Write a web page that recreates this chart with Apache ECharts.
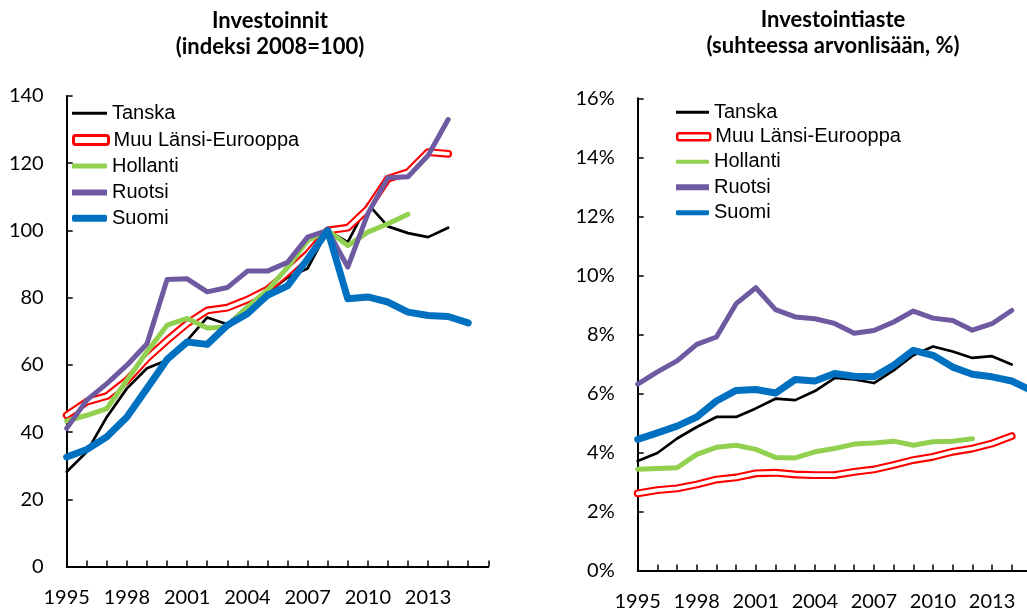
<!DOCTYPE html>
<html>
<head>
<meta charset="utf-8">
<script src="https://cdn.jsdelivr.net/npm/echarts@6/dist/echarts.min.js"></script>
<style>html,body{margin:0;padding:0;background:#fff}#c{width:1027px;height:612px}</style>
</head>
<body>
<div id="c"></div>
<script>
// ---- data ----
const years = ['1995','1996','1997','1998','1999','2000','2001','2002','2003','2004','2005','2006','2007','2008','2009','2010','2011','2012','2013','2014','2015','2016'];
const seriesNames = ['Tanska','Muu Länsi-Eurooppa','Hollanti','Ruotsi','Suomi'];

// Left: Investoinnit (indeksi 2008=100)
const invTanska   = [28.2,34.1,44.5,53.0,59.0,61.4,67.3,74.1,72.1,77.5,81.5,86.0,88.7,100,96.5,107.9,101.2,99.2,98.0,100.8];
const invMuu      = [45.0,49.0,50.7,55.4,61.9,67.3,72.3,76.2,77.0,79.4,82.4,87.5,93.0,100,100.8,106.4,115.4,117.3,123.3,122.8];
const invHollanti = [43.3,45.0,47.0,55.4,63.9,71.8,73.8,71.0,71.3,77.2,82.2,89.0,97.0,100,95.5,99.5,102.0,104.8];
const invRuotsi   = [41.1,49.5,54.4,59.9,66.3,85.4,85.6,81.7,83.0,87.9,87.9,90.5,98.0,100,89.1,105.0,115.7,116.0,122.3,133.0];
const invSuomi    = [32.6,34.8,38.6,44.5,53.0,61.6,66.8,66.1,71.8,75.2,80.7,83.5,91.5,100,79.7,80.2,78.7,75.7,74.7,74.4,72.5];

// Right: Investointiaste (suhteessa arvonlisään, %)
const rateTanska   = [3.71,3.98,4.47,4.86,5.20,5.20,5.49,5.82,5.77,6.08,6.52,6.47,6.35,6.78,7.29,7.59,7.42,7.20,7.26,6.98];
const rateMuu      = [2.61,2.72,2.78,2.91,3.08,3.15,3.29,3.31,3.25,3.23,3.23,3.34,3.42,3.57,3.74,3.85,4.02,4.13,4.30,4.55];
const rateHollanti = [3.43,3.45,3.48,3.93,4.17,4.24,4.10,3.83,3.81,4.02,4.13,4.28,4.32,4.38,4.24,4.36,4.38,4.46];
const rateRuotsi   = [6.31,6.73,7.10,7.66,7.91,9.04,9.58,8.84,8.59,8.53,8.37,8.04,8.13,8.42,8.79,8.55,8.47,8.14,8.36,8.81];
const rateSuomi    = [4.44,4.66,4.89,5.20,5.74,6.10,6.13,6.01,6.47,6.42,6.67,6.58,6.56,6.95,7.46,7.29,6.89,6.65,6.56,6.42,6.10];

const leftTicks = [0,20,40,60,80,100,120,140];
const rightTicks = [0,2,4,6,8,10,12,14,16];

// ---- style ----
const colors = {Tanska:'#000000', Muu:'#ff0000', Hollanti:'#92d050', Ruotsi:'#6e5aa0', Suomi:'#0070c0'};
const tickFont = {fontFamily:'Lato', fontSize:20, color:'#000'};

function lineSeries(name, data, xi, color, width, extra) {
  return Object.assign({
    type:'line', name, data, xAxisIndex:xi, yAxisIndex:xi,
    showSymbol:false, symbol:'none', silent:true, connectNulls:false,
    lineStyle:{color, width, cap:'round', join:'round'},
    itemStyle:{color}, emphasis:{disabled:true}
  }, extra||{});
}
function seriesFor(xi, arrs) {
  return [
    lineSeries('Tanska', arrs[0], xi, colors.Tanska, 2.7),
    lineSeries('Muu Länsi-Eurooppa', arrs[1], xi, colors.Muu, 7.8),
    lineSeries('_muuInner'+xi, arrs[1], xi, '#ffffff', 3.6),
    lineSeries('Hollanti', arrs[2], xi, colors.Hollanti, 5),
    lineSeries('Ruotsi', arrs[3], xi, colors.Ruotsi, 5),
    lineSeries('Suomi', arrs[4], xi, colors.Suomi, 7)
  ];
}
function leg(name, left, cy, w, h, icon, style) {
  return {
    left, top: cy - 10, padding:0, orient:'horizontal', selectedMode:false,
    itemWidth:w, itemHeight:h, icon,
    data:[{name, itemStyle: style}],
    textStyle:{fontFamily:'Liberation Sans', fontSize:20, lineHeight:20, color:'#000'}
  };
}
const legends = [
  leg('Tanska', 72, 113.3, 35, 3, 'rect', {color:colors.Tanska, borderWidth:0}),
  leg('Muu Länsi-Eurooppa', 72, 140, 35, 9, 'roundRect', {color:'#ffffff', borderColor:colors.Muu, borderWidth:3}),
  leg('Hollanti', 72, 166, 35, 5, 'roundRect', {color:colors.Hollanti, borderWidth:0}),
  leg('Ruotsi', 72, 192.5, 35, 6, 'rect', {color:colors.Ruotsi, borderWidth:0}),
  leg('Suomi', 72, 218.3, 35, 7, 'roundRect', {color:colors.Suomi, borderWidth:0}),
  leg('Tanska', 676, 112.3, 33, 3, 'rect', {color:colors.Tanska, borderWidth:0}),
  leg('Muu Länsi-Eurooppa', 676, 136.7, 33, 7, 'roundRect', {color:'#ffffff', borderColor:colors.Muu, borderWidth:2.5}),
  leg('Hollanti', 676, 161.7, 33, 4, 'roundRect', {color:colors.Hollanti, borderWidth:0}),
  leg('Ruotsi', 676, 187.3, 33, 6, 'rect', {color:colors.Ruotsi, borderWidth:0}),
  leg('Suomi', 676, 212.7, 33, 5, 'roundRect', {color:colors.Suomi, borderWidth:0})
];

function xAx(gi, lastLabelIdx) {
  return {
    gridIndex:gi, type:'category', data:years, boundaryGap:false,
    axisLine:{show:true, lineStyle:{color:'#000', width:2}},
    axisTick:{show:true, inside:true, length:6, interval:0, lineStyle:{color:'#000', width:1.5}},
    axisLabel:Object.assign({interval:(i)=> i % 3 === 0 && i <= lastLabelIdx, margin:21, hideOverlap:false}, tickFont),
    splitLine:{show:false}
  };
}
function yAx(gi, ticks, fmt) {
  return {
    gridIndex:gi, type:'value', min:ticks[0], max:ticks[ticks.length-1], interval:ticks[1]-ticks[0],
    axisLine:{show:true, lineStyle:{color:'#000', width:2}},
    axisTick:{show:true, inside:true, length:6, lineStyle:{color:'#000', width:1.5}},
    axisLabel:Object.assign({margin:23, formatter:fmt}, tickFont),
    splitLine:{show:false}
  };
}

const titleStyle = {fontFamily:'Lato', fontWeight:'bold', fontSize:22, lineHeight:26, fill:'#000', align:'center', verticalAlign:'top'};

const option = {
  animation:false,
  backgroundColor:'#ffffff',
  graphic:[
    {type:'text', x:270, y:8, silent:true, style:Object.assign({text:'Investoinnit\n(indeksi 2008=100)'}, titleStyle)},
    {type:'text', x:833, y:7, silent:true, style:Object.assign({text:'Investointiaste\n(suhteessa arvonlisään, %)'}, titleStyle)}
  ],
  legend:legends,
  grid:[
    {left:66.7, top:96, width:421.6, height:470.5, containLabel:false, outerBoundsMode:'none'},
    {left:637.7, top:98.3, width:413.4, height:472.1, containLabel:false, outerBoundsMode:'none'}
  ],
  xAxis:[xAx(0, 18), xAx(1, 18)],
  yAxis:[yAx(0, leftTicks, '{value}'), yAx(1, rightTicks, '{value}%')],
  series:[].concat(
    seriesFor(0, [invTanska, invMuu, invHollanti, invRuotsi, invSuomi]),
    seriesFor(1, [rateTanska, rateMuu, rateHollanti, rateRuotsi, rateSuomi])
  )
};
const chart = echarts.init(document.getElementById('c'), null, {renderer:'canvas'});
chart.setOption(option);
</script>
</body>
</html>
